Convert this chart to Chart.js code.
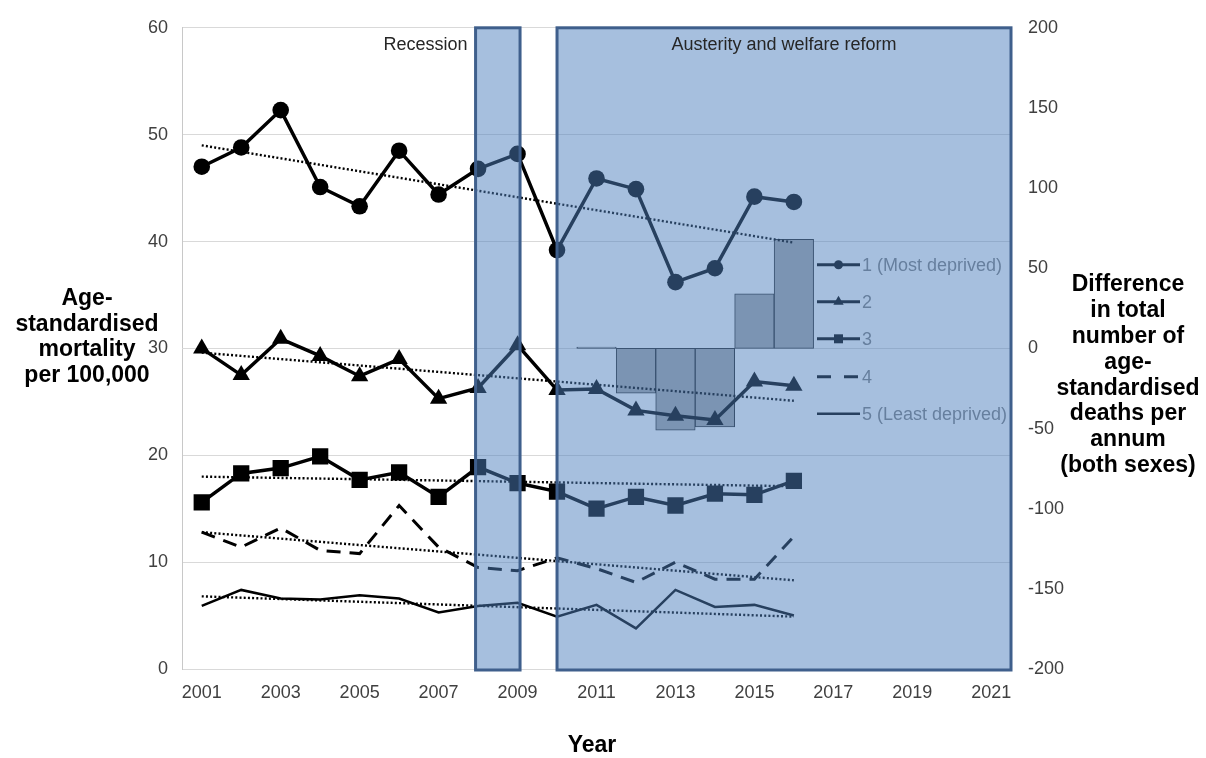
<!DOCTYPE html>
<html>
<head>
<meta charset="utf-8">
<script src="https://cdn.jsdelivr.net/npm/chart.js@4.4.1/dist/chart.umd.min.js"></script>
<style>
  html, body { margin: 0; padding: 0; background: #fff; }
</style>
</head>
<body>
<canvas id="mortalityChart" width="1206" height="758"></canvas>
<script>
// years on the category axis (labels shown every other year)
const years = ['2001', '2002', '2003', '2004', '2005', '2006', '2007', '2008', '2009', '2010',
  '2011', '2012', '2013', '2014', '2015', '2016', '2017', '2018', '2019', '2020', '2021'];

// age-standardised mortality per 100,000 by deprivation quintile, 2001-2016
const q1 = [47.0, 48.8, 52.3, 45.1, 43.3, 48.5, 44.4, 46.8, 48.2, 39.2, 45.9, 44.9, 36.2, 37.5, 44.2, 43.7];
const q2 = [30.0, 27.5, 30.9, 29.3, 27.4, 29.0, 25.3, 26.3, 30.3, 26.1, 26.2, 24.2, 23.7, 23.3, 26.9, 26.5];
const q3 = [15.6, 18.3, 18.8, 19.9, 17.7, 18.4, 16.1, 18.9, 17.4, 16.6, 15.0, 16.1, 15.3, 16.4, 16.3, 17.6];
const q4 = [12.8, 11.4, 13.2, 11.1, 10.8, 15.3, 11.4, 9.5, 9.2, 10.4, 9.4, 8.1, 10.0, 8.4, 8.4, 12.4];
const q5 = [5.9, 7.4, 6.6, 6.5, 6.9, 6.6, 5.3, 5.9, 6.2, 4.9, 6.0, 3.8, 7.4, 5.8, 6.0, 5.0];

// linear trend lines, start (2001) and end (2016) values
const trendStart = [49.0, 29.6, 18.0, 12.8, 6.8];
const trendEnd = [39.9, 25.1, 17.1, 8.3, 4.9];

// difference in total number of age-standardised deaths per annum (right axis)
const diffDeaths = [null, null, null, null, null, null, null, null, null, null, 0.8, -28, -51, -49, 34, 68];

const seriesNames = ['1 (Most deprived)', '2', '3', '4', '5 (Least deprived)'];
const recessionYears = ['2008', '2009'];
const austerityFrom = '2010';

const FONT = "'Liberation Sans', Arial, sans-serif";
const TICK_COLOR = '#404040';

function trendData(i) {
  const arr = new Array(q1.length).fill(null);
  arr[0] = trendStart[i];
  arr[arr.length - 1] = trendEnd[i];
  return arr;
}

function drawMarker(ctx, style, x, y, r) {
  ctx.beginPath();
  if (style === 'circle') {
    ctx.arc(x, y, r, 0, Math.PI * 2);
  } else if (style === 'triangle') {
    ctx.moveTo(x, y - r);
    ctx.lineTo(x + r * 0.866, y + r * 0.5);
    ctx.lineTo(x - r * 0.866, y + r * 0.5);
    ctx.closePath();
  } else if (style === 'rect') {
    ctx.rect(x - r, y - r, 2 * r, 2 * r);
  }
  ctx.fill();
}

const boxesPlugin = {
  id: 'boxes',
  afterDatasetsDraw(chart) {
    // legend sits inside the plot, under the shaded boxes
    const { ctx, chartArea } = chart;
    const x0 = chartArea.right - 194;
    const x1 = chartArea.right - 151;
    const rows = [237, 274, 311, 349, 386];
    const markers = ['circle', 'triangle', 'rect', null, null];
    const markerSize = [4.5, 6, 4.5, 0, 0];
    ctx.save();
    rows.forEach((dy, i) => {
      const y = chartArea.top + dy;
      ctx.strokeStyle = '#000';
      ctx.fillStyle = '#000';
      ctx.lineWidth = i === 4 ? 2.5 : 3;
      ctx.setLineDash(i === 3 ? [14, 13] : []);
      ctx.beginPath();
      ctx.moveTo(x0, y);
      ctx.lineTo(x1, y);
      ctx.stroke();
      ctx.setLineDash([]);
      if (markers[i]) drawMarker(ctx, markers[i], (x0 + x1) / 2, y, markerSize[i]);
      ctx.fillStyle = '#7f7f7f';
      ctx.font = '18px ' + FONT;
      ctx.textAlign = 'left';
      ctx.textBaseline = 'middle';
      ctx.fillText(seriesNames[i], x1 + 2, y + 1);
    });
    ctx.restore();
  },
  afterDraw(chart) {
    const { ctx, chartArea, scales } = chart;
    const xs = scales.x;
    const top = chartArea.top;
    const bottom = chartArea.bottom + 1;
    const recL = xs.getPixelForValue(years.indexOf(recessionYears[0])) - 2.5;
    const recR = xs.getPixelForValue(years.indexOf(recessionYears[1])) + 2.5;
    const ausL = xs.getPixelForValue(years.indexOf(austerityFrom));
    const ausR = chartArea.right;

    ctx.save();
    [[recL, recR], [ausL, ausR]].forEach(([l, r]) => {
      ctx.fillStyle = 'rgba(78,127,190,0.5)';
      ctx.fillRect(l, top, r - l, bottom - top);
      ctx.strokeStyle = '#3f5f8c';
      ctx.lineWidth = 3;
      ctx.strokeRect(l, top, r - l, bottom - top);
    });

    ctx.fillStyle = '#262626';
    ctx.font = '18px ' + FONT;
    ctx.textBaseline = 'middle';
    ctx.textAlign = 'right';
    ctx.fillText('Recession', recL - 8, top + 17);
    ctx.textAlign = 'center';
    ctx.fillText('Austerity and welfare reform', (ausL + ausR) / 2, top + 17);

    // axis titles
    ctx.fillStyle = '#000';
    ctx.font = 'bold 23px ' + FONT;
    const leftTitle = ['Age-', 'standardised', 'mortality', 'per 100,000'];
    leftTitle.forEach((t, i) => ctx.fillText(t, 87, 299 + i * 25.5));
    const rightTitle = ['Difference', 'in total', 'number of', 'age-', 'standardised', 'deaths per', 'annum', '(both sexes)'];
    rightTitle.forEach((t, i) => ctx.fillText(t, 1128, 285 + i * 25.8));
    ctx.fillText('Year', 592, 746);
    ctx.restore();
  },
};

const lineStyles = [
  { data: q1, pointStyle: 'circle', pointRadius: 8.3, borderWidth: 3.5 },
  { data: q2, pointStyle: 'triangle', pointRadius: 10, borderWidth: 3.5 },
  { data: q3, pointStyle: 'rect', pointRadius: 11.5, borderWidth: 3.5 },
  { data: q4, pointStyle: false, pointRadius: 0, borderWidth: 3, borderDash: [14, 9] },
  { data: q5, pointStyle: false, pointRadius: 0, borderWidth: 2.5 },
];

const datasets = [];
lineStyles.forEach((s, i) => {
  datasets.push({
    type: 'line',
    label: seriesNames[i],
    data: s.data,
    yAxisID: 'y',
    borderColor: '#000',
    backgroundColor: '#000',
    borderWidth: s.borderWidth,
    borderDash: s.borderDash || [],
    pointStyle: s.pointStyle,
    pointRadius: s.pointRadius,
    pointHoverRadius: s.pointRadius,
    pointBorderWidth: 0,
    tension: 0,
    order: 2,
  });
});
trendStart.forEach((_, i) => {
  datasets.push({
    type: 'line',
    label: 'Trend ' + seriesNames[i],
    data: trendData(i),
    yAxisID: 'y',
    borderColor: '#000',
    borderWidth: 2.4,
    borderDash: [2, 2.2],
    pointRadius: 0,
    spanGaps: true,
    order: 3,
  });
});
datasets.push({
  type: 'bar',
  label: 'Difference',
  data: diffDeaths,
  yAxisID: 'y2',
  backgroundColor: '#a8a8a8',
  borderColor: '#262626',
  borderWidth: 1,
  borderSkipped: false,
  barPercentage: 1,
  categoryPercentage: 1,
  order: 10,
});

const tickFont = { family: FONT, size: 18 };

new Chart(document.getElementById('mortalityChart'), {
  data: { labels: years, datasets },
  options: {
    responsive: false,
    animation: false,
    devicePixelRatio: 1,
    layout: { padding: { top: 27, left: 0, right: 0, bottom: 0 } },
    plugins: {
      legend: { display: false },
      tooltip: { enabled: false },
    },
    scales: {
      x: {
        type: 'category',
        offset: true,
        grid: { display: false, drawTicks: false },
        border: { display: true, color: '#d9d9d9', width: 1 },
        ticks: {
          autoSkip: false,
          maxRotation: 0,
          padding: 13,
          color: TICK_COLOR,
          font: tickFont,
          callback: (v, i) => (i % 2 === 0 ? years[i] : ''),
        },
        afterFit: (s) => { s.height = 89; },
      },
      y: {
        position: 'left',
        min: 0,
        max: 60,
        grid: { color: '#d9d9d9', drawTicks: false },
        border: { color: '#c8c8c8' },
        ticks: { stepSize: 10, padding: 14, color: TICK_COLOR, font: tickFont },
        afterFit: (s) => { s.width = 182; },
      },
      y2: {
        position: 'right',
        min: -200,
        max: 200,
        grid: { display: false, drawTicks: false },
        border: { display: false },
        ticks: { stepSize: 50, padding: 17, color: TICK_COLOR, font: tickFont },
        afterFit: (s) => { s.width = 195; },
      },
    },
  },
  plugins: [boxesPlugin],
});
</script>
</body>
</html>
